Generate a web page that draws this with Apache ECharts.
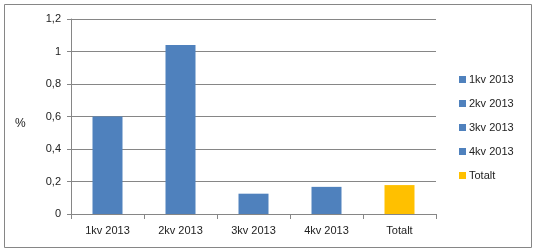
<!DOCTYPE html>
<html><head><meta charset="utf-8">
<script src="https://cdn.jsdelivr.net/npm/echarts@6/dist/echarts.min.js"></script>
<style>html,body{margin:0;padding:0;background:#fff}#c{width:536px;height:252px}</style>
</head><body><div id="c"></div>
<script>
const categories = ['1kv 2013', '2kv 2013', '3kv 2013', '4kv 2013', 'Totalt'];
const values = [0.60, 1.04, 0.125, 0.167, 0.178];
const colors = ['#4F81BD', '#4F81BD', '#4F81BD', '#4F81BD', '#FFC000'];
const yTicks = [0, 0.2, 0.4, 0.6, 0.8, 1, 1.2];
const yName = '%';

const font = 'Liberation Sans, Arial, sans-serif';
const series = categories.map((name, i) => ({
  name: name,
  type: 'bar',
  stack: 'all',
  barWidth: 30,
  itemStyle: { color: colors[i] },
  data: categories.map((c, j) => j === i ? values[i] : '-')
}));

const chart = echarts.init(document.getElementById('c'), null, { renderer: 'canvas' });
chart.setOption({
  animation: false,
  color: colors,
  grid: { left: 71, right: 100, top: 19, bottom: 38 },
  legend: {
    orient: 'vertical', left: 454, top: 68,
    icon: 'rect', itemWidth: 7, itemHeight: 7, itemGap: 11,
    textStyle: { fontFamily: font, fontSize: 11, lineHeight: 13, color: '#222', padding: [0, 0, 0, -2] },
    data: categories
  },
  xAxis: {
    type: 'category', data: categories,
    axisLine: { lineStyle: { color: '#868686' } },
    axisTick: { show: true, length: 5, lineStyle: { color: '#868686' } },
    axisLabel: { fontFamily: font, fontSize: 11, color: '#222', margin: 11 }
  },
  yAxis: {
    type: 'value', min: 0, max: yTicks[yTicks.length - 1], interval: 0.2,
    axisLine: { show: true, lineStyle: { color: '#868686' } },
    axisTick: { show: true, length: 4, lineStyle: { color: '#868686' } },
    splitLine: { lineStyle: { color: '#868686' } },
    axisLabel: {
      fontFamily: font, fontSize: 11, color: '#222', margin: 10,
      formatter: v => String(Math.round(v * 10) / 10).replace('.', ',')
    }
  },
  graphic: [
    { type: 'rect', shape: { x: 4.5, y: 4.5, width: 527, height: 243 },
      style: { fill: 'none', stroke: '#868686', lineWidth: 1 }, silent: true },
    { type: 'text', left: 15, top: 118,
      style: { text: yName, fontFamily: font, fontSize: 12, fill: '#222' } }
  ],
  series: series
});
</script></body></html>
